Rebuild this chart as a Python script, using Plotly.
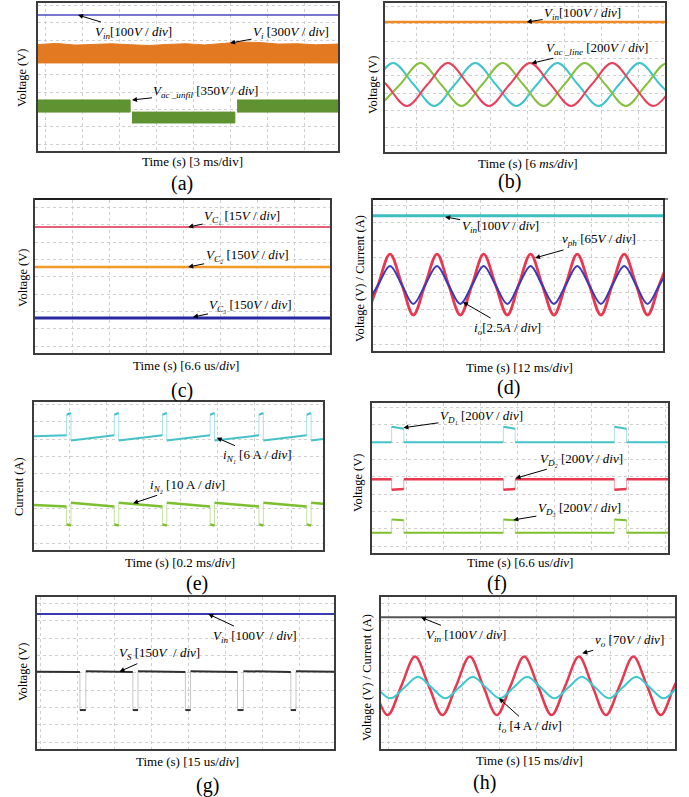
import plotly.graph_objects as go

FONT = "Liberation Serif, Times New Roman, Times, serif"
FIG_W, FIG_H = 689, 797
DX, DY = 37.0, 17.3  # pixels per oscilloscope division

# ================= DATA (oscilloscope divisions) =================
# (a)
a_vin = 7.86
a_vi_x = [0.0, 0.5, 1.0, 1.5, 2.0, 2.5, 3.0, 3.5, 4.0, 4.5, 5.0, 5.5, 6.0, 6.5, 7.0, 7.5, 8.11]
a_vi_top = [6.15, 6.22, 6.12, 6.18, 6.20, 6.14, 6.10, 6.16, 6.20, 6.13, 6.22, 6.30, 6.27, 6.18, 6.20, 6.14, 6.18]
a_vi_bot = [5.09, 5.09, 5.09, 5.09, 5.09, 5.09, 5.09, 5.09, 5.09, 5.09, 5.09, 5.09, 5.09, 5.09, 5.09, 5.09, 5.09]
a_ac_start = [0.0, 2.54, 5.38]
a_ac_end = [2.49, 5.32, 8.11]
a_ac_top = [2.95, 2.25, 2.95]
a_ac_bot = [2.25, 1.62, 2.25]

# (b)
b_vin = 7.51
b_red_x = [-0.52, 0.035, 0.59, 1.145, 1.70, 2.255, 2.81, 3.365, 3.92, 4.475, 5.03, 5.585, 6.14, 6.695, 7.25, 7.805]
b_red_y = [5.14, 3.90, 2.66, 3.90, 5.14, 3.90, 2.66, 3.90, 5.14, 3.90, 2.66, 3.90, 5.14, 3.90, 2.66, 3.90]
b_cyan_x = [-0.89, -0.335, 0.22, 0.775, 1.33, 1.885, 2.44, 2.995, 3.55, 4.105, 4.66, 5.215, 5.77, 6.325, 6.88, 7.435, 7.99]
b_cyan_y = [2.66, 3.90, 5.14, 3.90, 2.66, 3.90, 5.14, 3.90, 2.66, 3.90, 5.14, 3.90, 2.66, 3.90, 5.14, 3.90, 2.66]
b_green_x = [-0.15, 0.405, 0.96, 1.515, 2.07, 2.625, 3.18, 3.735, 4.29, 4.845, 5.40, 5.955, 6.51, 7.065, 7.62, 8.175]
b_green_y = [2.66, 3.90, 5.14, 3.90, 2.66, 3.90, 5.14, 3.90, 2.66, 3.90, 5.14, 3.90, 2.66, 3.90, 5.14, 3.90]

# (c)
c_vc1 = 7.28
c_vc2 = 4.97
c_vc3 = 2.02

# (d)
d_vin = 7.82
d_t = [-0.17, 0.14, 0.46, 0.78, 1.09, 1.41, 1.73, 2.04, 2.36, 2.68, 2.99, 3.31, 3.63, 3.94,
       4.26, 4.57, 4.89, 5.21, 5.52, 5.84, 6.16, 6.47, 6.79, 7.11, 7.42, 7.74, 8.06]
d_vph = [2.08, 3.84, 5.60, 3.84, 2.08, 3.84, 5.60, 3.84, 2.08, 3.84, 5.60, 3.84, 2.08, 3.84,
         5.60, 3.84, 2.08, 3.84, 5.60, 3.84, 2.08, 3.84, 5.60, 3.84, 2.08, 3.84, 5.60]
d_io = [2.72, 3.82, 4.92, 3.82, 2.72, 3.82, 4.92, 3.82, 2.72, 3.82, 4.92, 3.82, 2.72, 3.82,
        4.92, 3.82, 2.72, 3.82, 4.92, 3.82, 2.72, 3.82, 4.92, 3.82, 2.72, 3.82, 4.92]

# (e)  pulse on/off instants and levels [start, after pulse, before pulse, pulse start, pulse end, end]
e_on = [0.88, 2.17, 3.47, 4.76, 6.08, 7.37]
e_off = [1.00, 2.29, 3.59, 4.88, 6.20, 7.49]
e_n1_lv = [6.58, 6.33, 6.63, 7.82, 7.92, 6.42]
e_n2_lv = [2.60, 2.73, 2.52, 1.48, 1.42, 2.68]

# (f)
f_on = [0.53, 3.55, 6.55]
f_off = [0.86, 3.87, 6.88]
f_d1_lv = [6.40, 6.40, 6.40, 7.30, 7.18, 6.40]
f_d2_lv = [4.26, 4.26, 4.26, 3.66, 3.70, 4.26]
f_d3_lv = [1.17, 1.17, 1.17, 1.93, 1.90, 1.17]

# (g)
g_vin = 7.80
g_on = [1.16, 2.59, 4.01, 5.42, 6.86]
g_off = [1.32, 2.73, 4.15, 5.58, 7.00]
g_vs_lv = [4.47, 4.50, 4.45, 2.25, 2.25, 4.47]

# (h)
h_vin = 7.61
h_vo_t = [-0.19, 0.18, 0.55, 0.92, 1.29, 1.66, 2.03, 2.40, 2.76, 3.13, 3.50, 3.87,
          4.24, 4.61, 4.98, 5.35, 5.71, 6.08, 6.45, 6.82, 7.19, 7.56, 7.93, 8.30]
h_vo = [3.65, 1.96, 3.65, 5.34, 3.65, 1.96, 3.65, 5.34, 3.65, 1.96, 3.65, 5.34,
        3.65, 1.96, 3.65, 5.34, 3.65, 1.96, 3.65, 5.34, 3.65, 1.96, 3.65, 5.34]
h_io_t = [-0.11, 0.26, 0.63, 1.00, 1.37, 1.74, 2.11, 2.48, 2.84, 3.21, 3.58, 3.95,
          4.32, 4.69, 5.06, 5.43, 5.79, 6.16, 6.53, 6.90, 7.27, 7.64, 8.01, 8.38]
h_io = [3.55, 2.93, 3.55, 4.17, 3.55, 2.93, 3.55, 4.17, 3.55, 2.93, 3.55, 4.17,
        3.55, 2.93, 3.55, 4.17, 3.55, 2.93, 3.55, 4.17, 3.55, 2.93, 3.55, 4.17]

# channel ground-level markers on the left edge of each screen
gnd_levels = {
    "a": [6.88, 5.09, 2.25], "b": [6.53, 3.87], "c": [5.86, 3.97, 0.85], "d": [6.71, 3.82],
    "e": [6.42, 2.56], "f": [6.38, 4.26, 1.14], "g": [6.63, 2.16], "h": [6.49, 3.47],
}
gnd_colors = {
    "a": ["#8a5cc8", "#f08a24", "#3cb8a0"], "b": ["#f08a24", "#888888"],
    "c": ["#e8405a", "#f08a24", "#8a5cc8"], "d": ["#999999", "#999999"],
    "e": ["#45c2c8", "#3cb8a0"], "f": ["#45c2c8", "#e8384f", "#45c2c8"],
    "g": ["#8a5cc8", "#777777"], "h": ["#999999", "#e8384f"],
}

# ================= LAYOUT =================
PANELS = {  # left, right, top, bottom in page pixels
    "a": (38, 338, 3, 151),
    "b": (385, 665, 3, 152),
    "c": (35, 330, 200, 353),
    "d": (373, 663, 200, 351),
    "e": (34, 323, 402, 550),
    "f": (372, 668, 403, 553),
    "g": (37, 334, 597, 749),
    "h": (381, 675, 597, 749),
}
GRID_X0 = {"a": 0.19, "b": 0.86, "c": 0.0, "d": 0.91, "e": 0.97, "f": 0.94, "g": 0.09, "h": 0.19}
KEYS = "abcdefgh"

fig = go.Figure()


def ids(k):
    i = KEYS.index(k) + 1
    return ("x" if i == 1 else f"x{i}"), ("y" if i == 1 else f"y{i}")


def xmax(k):
    l, r, t, b = PANELS[k]
    return (r - l) / DX


for k, (l, r, t, b) in PANELS.items():
    i = KEYS.index(k) + 1
    xn = "xaxis" if i == 1 else f"xaxis{i}"
    yn = "yaxis" if i == 1 else f"yaxis{i}"
    xid, yid = ids(k)
    common = dict(showgrid=True, gridcolor="#cfcfcf", griddash="dot", gridwidth=1,
                  dtick=1, showticklabels=False, ticks="", zeroline=False,
                  showline=True, mirror=True, linecolor="#3c3c3c", linewidth=1.6,
                  fixedrange=True)
    fig.update_layout(**{
        xn: dict(domain=[l / FIG_W, r / FIG_W], range=[0, (r - l) / DX], anchor=yid,
                 tick0=GRID_X0[k], **common),
        yn: dict(domain=[1 - b / FIG_H, 1 - t / FIG_H], range=[0, (b - t) / DY], anchor=xid,
                 tick0=0.4, **common),
    })


def line(k, x, y, color, width, shape="linear"):
    xid, yid = ids(k)
    fig.add_trace(go.Scatter(x=x, y=y, xaxis=xid, yaxis=yid, mode="lines",
                             line=dict(color=color, width=width, shape=shape),
                             hoverinfo="skip", showlegend=False))


def band(k, x, top, bot, color):
    xid, yid = ids(k)
    fig.add_trace(go.Scatter(x=list(x) + list(x)[::-1], y=list(top) + list(bot)[::-1],
                             xaxis=xid, yaxis=yid, mode="lines", fill="toself",
                             fillcolor=color, line=dict(color=color, width=1),
                             hoverinfo="skip", showlegend=False))


def pulses(k, on, off, lv, color, edge, width):
    lvl0, after, before, pa, pb, lend = lv
    hx, hy, vx, vy = [], [], [], []
    px, pl = 0.0, lvl0
    for t0, t1 in zip(on, off):
        hx += [px, t0, None, t0, t1, None]
        hy += [pl, before, None, pa, pb, None]
        vx += [t0, t0, None, t1, t1, None]
        vy += [before, pa, None, pb, after, None]
        px, pl = t1, after
    hx += [px, xmax(k)]
    hy += [pl, lend]
    line(k, vx, vy, edge, 1)
    line(k, hx, hy, color, width)


def note(k, x, y, text, ax, ay):
    xid, yid = ids(k)
    fig.add_annotation(x=x, y=y, xref=xid, yref=yid, text=text, showarrow=True,
                       ax=ax, ay=ay, arrowhead=2, arrowsize=1, arrowwidth=1,
                       arrowcolor="black", font=dict(family=FONT, size=13, color="black"))


def ptext(px, py, text, size, angle=0):
    fig.add_annotation(x=px / FIG_W, y=1 - py / FIG_H, xref="paper", yref="paper",
                       text=text, showarrow=False, textangle=angle,
                       xanchor="center", yanchor="middle",
                       font=dict(family=FONT, size=size, color="black"))


# ground markers
for k in KEYS:
    xid, yid = ids(k)
    lv = gnd_levels[k]
    fig.add_trace(go.Scatter(x=[-0.08] * len(lv), y=lv, xaxis=xid, yaxis=yid, mode="markers",
                             marker=dict(symbol="triangle-right", size=4, color=gnd_colors[k]),
                             cliponaxis=False, hoverinfo="skip", showlegend=False))

# ---- (a)
line("a", [0, xmax("a")], [a_vin, a_vin], "#4b4bc4", 1.6)
band("a", a_vi_x, a_vi_top, a_vi_bot, "#e37a22")
for s, e, tp, bt in zip(a_ac_start, a_ac_end, a_ac_top, a_ac_bot):
    band("a", [s, e], [tp, tp], [bt, bt], "#5f9230")
note("a", 1.08, a_vin, "<i>V<sub>in</sub></i>[100<i>V</i> / <i>div</i>]", 56, 17)
note("a", 5.19, 6.24, "<i>V<sub>i</sub></i> [300<i>V</i> / <i>div</i>]", 61, -11)
note("a", 2.54, 2.95, "<i>V<sub>ac _unfil</sub></i> [350<i>V</i> / <i>div</i>]", 74, -8)

# ---- (b)
line("b", [0, xmax("b")], [b_vin, b_vin], "#f08a24", 2.5)
line("b", b_cyan_x, b_cyan_y, "#3fc4cc", 2, "spline")
line("b", b_green_x, b_green_y, "#86c040", 2, "spline")
line("b", b_red_x, b_red_y, "#e8405a", 2, "spline")
note("b", 3.83, b_vin, "<i>V<sub>in</sub></i>[100<i>V</i> / <i>div</i>]", 56, -9)
note("b", 3.96, 5.13, "<i>V<sub>ac _line</sub></i> [200<i>V</i> / <i>div</i>]", 65, -15)

# ---- (c)
line("c", [0, xmax("c")], [c_vc1, c_vc1], "#e8607a", 2)
line("c", [0, xmax("c")], [c_vc2, c_vc2], "#f39a2a", 2.5)
line("c", [0, xmax("c")], [c_vc3, c_vc3], "#2828a0", 3)
note("c", 4.14, c_vc1, "<i>V<sub>C₁</sub></i> [15<i>V</i> / <i>div</i>]", 54, -11)
note("c", 4.14, c_vc2, "<i>V<sub>C₂</sub></i> [150<i>V</i> / <i>div</i>]", 59, -12)
note("c", 4.27, c_vc3 + 0.06, "<i>V<sub>C₃</sub></i> [150<i>V</i> / <i>div</i>]", 58, -12)

# ---- (d)
line("d", [0, xmax("d")], [d_vin, d_vin], "#3bbfc0", 3)
line("d", d_t, d_vph, "#e8384f", 2.8, "spline")
line("d", d_t, d_io, "#3a3ab8", 2, "spline")
note("d", 1.95, d_vin - 0.07, "<i>V<sub>in</sub></i>[100<i>V</i> / <i>div</i>]", 55, 10)
note("d", 4.38, 5.38, "<i>v<sub>ph</sub></i> [65<i>V</i> / <i>div</i>]", 64, -18)
note("d", 2.43, 2.83, "<i>i<sub>o</sub></i>[2.5<i>A</i> / <i>div</i>]", 45, 26)

# ---- (e)
pulses("e", e_on, e_off, e_n1_lv, "#45c2c8", "#a8e4e8", 2)
pulses("e", e_on, e_off, e_n2_lv, "#7cbf2f", "#c5e3a0", 2.5)
note("e", 4.94, 6.49, "<i>i<sub>N₁</sub></i> [6 A / <i>div</i>]", 41, 18)
note("e", 2.68, 2.70, "<i>i<sub>N₂</sub></i> [10 A / <i>div</i>]", 54, -18)

# ---- (f)
pulses("f", f_on, f_off, f_d1_lv, "#45c2c8", "#a8e4e8", 2)
pulses("f", f_on, f_off, f_d2_lv, "#e8384f", "#f4a0ac", 2.5)
pulses("f", f_on, f_off, f_d3_lv, "#7cbf2f", "#c5e3a0", 2)
note("f", 0.85, 7.24, "<i>V<sub>D₁</sub></i> [200<i>V</i> / <i>div</i>]", 78, -11)
note("f", 3.88, 4.32, "<i>V<sub>D₂</sub></i> [200<i>V</i> / <i>div</i>]", 66, -19)
note("f", 3.82, 1.91, "<i>V<sub>D₃</sub></i> [200<i>V</i> / <i>div</i>]", 66, -11)

# ---- (g)
line("g", [0, xmax("g")], [g_vin, g_vin], "#3a3ab0", 2)
pulses("g", g_on, g_off, g_vs_lv, "#2e2e2e", "#c8c8c8", 2)
note("g", 4.63, g_vin, "<i>V<sub>in</sub></i> [100<i>V</i>  / <i>div</i>]", 47, 22)
note("g", 2.23, 4.47, "<i>V<sub>S</sub></i> [150<i>V</i>  / <i>div</i>]", 40, -18)

# ---- (h)
line("h", [0, xmax("h")], [h_vin, h_vin], "#555555", 2)
line("h", h_vo_t, h_vo, "#e8384f", 2.5, "spline")
line("h", h_io_t, h_io, "#3cc8d0", 2, "spline")
note("h", 1.08, h_vin, "<i>V<sub>in</sub></i> [100<i>V</i> / <i>div</i>]", 45, 18)
note("h", 5.44, 5.53, "<i>v<sub>o</sub></i> [70<i>V</i> / <i>div</i>]", 47, -13)
note("h", 3.19, 2.93, "<i>i<sub>o</sub></i> [4 A / <i>div</i>]", 31, 28)

# ---- axis titles, time labels, panel letters
VT = "Voltage (V)"
VC = "Voltage (V) / Current (A)"
for px, py, t in [(22, 78, VT), (373, 85, VT), (23, 278, VT), (360, 279, VC),
                  (19, 487, "Current (A)"), (358, 483, VT), (23, 672, VT), (367, 678, VC)]:
    ptext(px, py, t, 12.5, -90)

for px, py, t in [(192, 162, "Time (s) [3 ms/div]"),
                  (528, 163, "Time (s) [6 <i>ms/div</i>]"),
                  (186, 365, "Time (s) [6.6 us/<i>div</i>]"),
                  (519, 367, "Time (s) [12 ms/<i>div</i>]"),
                  (180, 562, "Time (s) [0.2 ms/<i>div</i>]"),
                  (520, 562, "Time (s) [6.6 us/<i>div</i>]"),
                  (187, 761, "Time (s) [15 us/<i>div</i>]"),
                  (529, 760, "Time (s) [15 ms/<i>div</i>]")]:
    ptext(px, py, t, 13)

for px, py, t in [(182, 183, "(a)"), (510, 182, "(b)"), (182, 390, "(c)"), (508, 388, "(d)"),
                  (197, 583, "(e)"), (497, 583, "(f)"), (207, 785, "(g)"), (484, 782, "(h)")]:
    ptext(px, py, t, 20)

for x0, x1 in [(35, 320), (373, 668)]:
    fig.add_shape(type="line", xref="paper", yref="paper", x0=x0 / FIG_W, x1=x1 / FIG_W,
                  y0=1 - 199 / FIG_H, y1=1 - 199 / FIG_H, line=dict(color="black", width=1))

fig.update_layout(width=FIG_W, height=FIG_H, margin=dict(l=0, r=0, t=0, b=0),
                  paper_bgcolor="white", plot_bgcolor="white", showlegend=False,
                  font=dict(family=FONT, size=13, color="black"))

fig.write_html("out.html")
